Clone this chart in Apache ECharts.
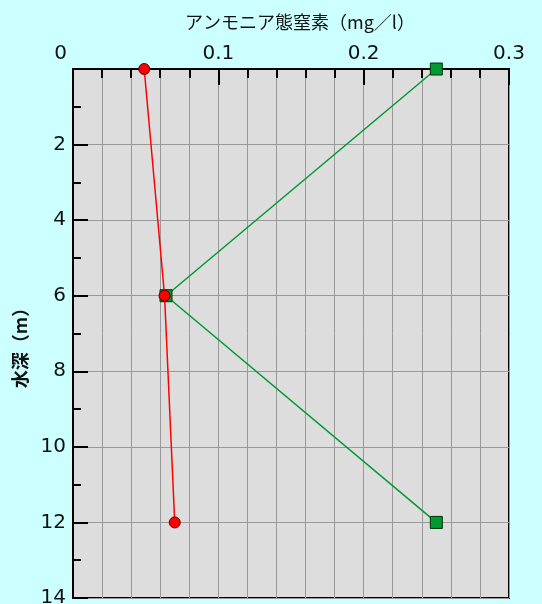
<!DOCTYPE html>
<html>
<head>
<meta charset="utf-8">
<script src="https://cdn.jsdelivr.net/npm/echarts@6/dist/echarts.min.js"></script>
<style>html,body{margin:0;padding:0;background:#CCFFFF;}#c{width:542px;height:604px;}</style>
</head>
<body>
<div id="c"></div>
<script>
var xTitle = 'アンモニア態窒素（mg／l）';
var yTitle = '水深（m）';
var depths = [0, 6, 12];
var redValues = [0.049, 0.063, 0.070];
var greenValues = [0.25, 0.064, 0.25];

function pairs(vals){ return vals.map(function(v,i){ return [v, depths[i]]; }); }

var numFont = '"DejaVu Sans", "Liberation Sans", sans-serif';
var jpFont = '"Noto Sans CJK JP", sans-serif';

var chart = echarts.init(document.getElementById('c'));
chart.setOption({
  backgroundColor: '#CCFFFF',
  animation: false,
  grid: {left: 73, top: 69, right: 33, bottom: 6, outerBoundsMode: 'none', containLabel: false,
         show: true, backgroundColor: '#DDDDDD', borderColor: '#000', borderWidth: 2},
  xAxis: {
    type: 'value', position: 'top', min: 0, max: 0.3, interval: 0.1,
    name: xTitle, nameLocation: 'middle', nameGap: 38,
    nameTextStyle: {fontFamily: jpFont, fontSize: 18, color: '#111', padding: [0, 0, 0, 18]},
    axisLine: {show: true, lineStyle: {color: '#000', width: 2}},
    axisTick: {show: true, inside: true, length: 16, lineStyle: {color: '#000', width: 2}},
    minorTick: {show: true, splitNumber: 5, length: 9, lineStyle: {color: '#000', width: 2}},
    splitLine: {show: true, lineStyle: {color: '#999', width: 1}},
    minorSplitLine: {show: true, lineStyle: {color: '#999', width: 1}},
    axisLabel: {
      margin: 5, fontFamily: numFont, fontSize: 20, color: '#111', alignMinLabel: 'right',
      formatter: function(v){ return v === 0 ? '{z|0}' : (+v).toFixed(1); },
      rich: {z: {fontFamily: numFont, fontSize: 20, color: '#111', padding: [0, 6, 0, 0]}}
    }
  },
  yAxis: {
    type: 'value', inverse: true, min: 0, max: 14, interval: 2,
    name: yTitle, nameLocation: 'middle', nameGap: 42,
    nameTextStyle: {fontFamily: jpFont, fontSize: 18, fontWeight: 'bold', color: '#111', padding: [0, 20, 0, 0]},
    axisLine: {show: true, lineStyle: {color: '#000', width: 2}},
    axisTick: {show: true, inside: true, length: 15, lineStyle: {color: '#000', width: 2}},
    minorTick: {show: true, splitNumber: 2, length: 8, lineStyle: {color: '#000', width: 2}},
    splitLine: {show: true, lineStyle: {color: '#999', width: 1}},
    axisLabel: {
      margin: 7, fontFamily: numFont, fontSize: 20, color: '#111',
      formatter: function(v){ return v === 0 ? '' : String(v); }
    }
  },
  series: [
    {type: 'line', data: pairs(greenValues), symbol: 'rect', symbolSize: 12,
     itemStyle: {color: '#009933', borderColor: '#003300', borderWidth: 1},
     lineStyle: {color: '#009933', width: 1.5}, z: 2},
    {type: 'line', data: pairs(redValues), symbol: 'circle', symbolSize: 11,
     itemStyle: {color: '#FF0000', borderColor: '#550000', borderWidth: 1},
     lineStyle: {color: '#FF0000', width: 1.5}, z: 3}
  ]
});
</script>
</body>
</html>
